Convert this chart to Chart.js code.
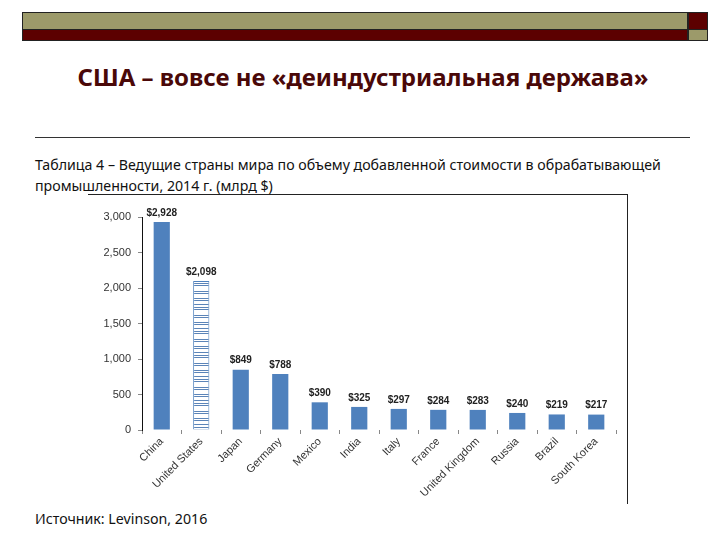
<!DOCTYPE html>
<html>
<head>
<meta charset="utf-8">
<script src="https://cdn.jsdelivr.net/npm/chart.js@4"></script>
<style>
  body { margin: 0; width: 720px; height: 540px; background: #fff; position: relative; overflow: hidden; font-family: "Noto Sans", sans-serif; }
  .bar1 { position: absolute; left: 22px; top: 12px; width: 664px; height: 16px; background: #9c9a6a; border: 1px solid #222; }
  .bar2 { position: absolute; left: 22px; top: 29px; width: 664px; height: 10px; background: #5c0000; border: 1px solid #222; }
  .sq1 { position: absolute; left: 688px; top: 12px; width: 18px; height: 16px; background: #5c0000; border: 1px solid #222; }
  .sq2 { position: absolute; left: 688px; top: 29px; width: 18px; height: 10px; background: #9c9a6a; border: 1px solid #222; }
  .title { position: absolute; left: 0; width: 726px; top: 60px; text-align: center; font-size: 24px; font-weight: bold; color: #4a0808; }
  .rule { position: absolute; left: 35px; top: 137px; width: 655px; height: 0; border-top: 1px solid #333; }
  .cap { position: absolute; left: 35px; top: 154px; font-size: 14.2px; line-height: 21px; color: #111; }
  .src { position: absolute; left: 35px; top: 509px; font-size: 14.2px; color: #111; }
  #box { position: absolute; left: 88px; top: 194px; width: 539px; height: 309px; border-top: 1px solid #222; border-right: 1px solid #222; }
</style>
</head>
<body>
<div class="bar1"></div><div class="bar2"></div><div class="sq1"></div><div class="sq2"></div>
<div class="title">США – вовсе не «деиндустриальная держава»</div>
<div class="rule"></div>
<div class="cap">Таблица 4 –  Ведущие страны мира по объему добавленной стоимости в обрабатывающей<br>промышленности, 2014 г. (млрд $)</div>
<div id="box"><canvas id="myChart" width="539" height="309"></canvas></div>
<div class="src">Источник: Levinson,  2016</div>
<script>
var countries = ['China', 'United States', 'Japan', 'Germany', 'Mexico', 'India', 'Italy', 'France', 'United Kingdom', 'Russia', 'Brazil', 'South Korea'];
var values = [2928, 2098, 849, 788, 390, 325, 297, 284, 283, 240, 219, 217];
var value_labels = ['$2,928', '$2,098', '$849', '$788', '$390', '$325', '$297', '$284', '$283', '$240', '$219', '$217'];
var y_ticks = [0, 500, 1000, 1500, 2000, 2500, 3000];

// striped fill for the US bar
var pat = document.createElement('canvas');
pat.width = 16; pat.height = 24;
var pc = pat.getContext('2d');
pc.fillStyle = '#fff';
pc.fillRect(0, 0, 16, 24);
pc.fillStyle = '#5b84b8';
[0, 2, 7, 9, 13, 16, 18].forEach(function (r) { pc.fillRect(0, r, 16, 1); });
var stripes = pc.createPattern(pat, 'repeat');

var bar_colors = values.map(function (v, i) { return i == 1 ? stripes : '#4f81bd'; });

var valueLabels = {
  id: 'valueLabels',
  afterDatasetsDraw: function (chart) {
    var ctx = chart.ctx;
    var meta = chart.getDatasetMeta(0);
    ctx.save();
    ctx.font = 'bold 10px "Liberation Sans", Arial, sans-serif';
    ctx.fillStyle = '#222';
    ctx.textAlign = 'center';
    ctx.textBaseline = 'bottom';
    meta.data.forEach(function (bar, i) {
      ctx.fillText(value_labels[i], bar.x, bar.y - 4);
    });
    ctx.restore();
  }
};

var ctx = document.getElementById('myChart');
var myChart = new Chart(ctx, {
  type: 'bar',
  data: {
    labels: countries,
    datasets: [{
      data: values,
      backgroundColor: bar_colors,
      borderColor: '#4f81bd',
      borderWidth: values.map(function (v, i) { return i == 1 ? 1 : 0; }),
      categoryPercentage: 1,
      barPercentage: 0.41
    }]
  },
  options: {
    responsive: false,
    animation: false,
    layout: { padding: { left: 0, right: 11, top: 22, bottom: 0 } },
    plugins: { legend: { display: false }, tooltip: { enabled: false } },
    scales: {
      x: {
        grid: { drawOnChartArea: false, tickLength: 4, color: '#888' },
        border: { display: false },
        ticks: { minRotation: 45, maxRotation: 45, color: '#333', padding: 1, font: { family: '"Liberation Sans", Arial', size: 11 } },
        afterFit: function (s) { s.height = 74; }
      },
      y: {
        min: 0, max: 3000,
        afterBuildTicks: function (s) { s.ticks = y_ticks.map(function (v) { return { value: v }; }); },
        grid: { drawOnChartArea: false, tickLength: 4, color: '#888' },
        border: { display: true, color: '#111' },
        ticks: { color: '#333', padding: 7, font: { family: '"Liberation Sans", Arial', size: 11 },
          callback: function (v) { return v.toLocaleString('en-US'); } },
        afterFit: function (s) { s.width = 54; }
      }
    }
  },
  plugins: [valueLabels]
});
</script>
</body>
</html>
